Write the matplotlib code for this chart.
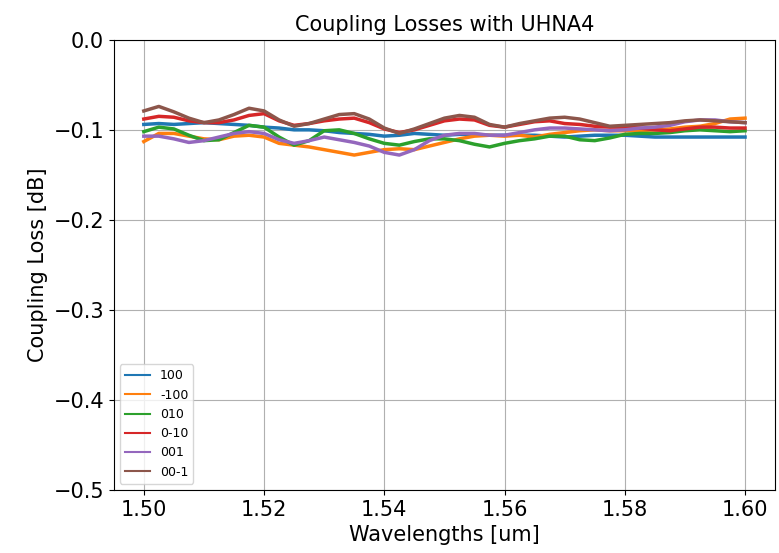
import numpy as np
import matplotlib
matplotlib.use("Agg")
import matplotlib.pyplot as plt

# wavelength grid (um)
wl = [1.5000, 1.5025, 1.5050, 1.5075, 1.5100, 1.5125, 1.5150, 1.5175, 1.5200, 1.5225,
      1.5250, 1.5275, 1.5300, 1.5325, 1.5350, 1.5375, 1.5400, 1.5425, 1.5450, 1.5475,
      1.5500, 1.5525, 1.5550, 1.5575, 1.5600, 1.5625, 1.5650, 1.5675, 1.5700, 1.5725,
      1.5750, 1.5775, 1.5800, 1.5825, 1.5850, 1.5875, 1.5900, 1.5925, 1.5950, 1.5975,
      1.6000]

loss_100 = [-0.094, -0.093, -0.094, -0.093, -0.092, -0.093, -0.094, -0.095, -0.097, -0.098,
            -0.100, -0.100, -0.101, -0.103, -0.104, -0.105, -0.107, -0.106, -0.104, -0.105,
            -0.106, -0.105, -0.105, -0.106, -0.106, -0.106, -0.106, -0.107, -0.108, -0.107,
            -0.106, -0.106, -0.106, -0.107, -0.108, -0.108, -0.108, -0.108, -0.108, -0.108,
            -0.108]
loss_m100 = [-0.113, -0.104, -0.104, -0.107, -0.110, -0.111, -0.107, -0.106, -0.108, -0.115,
             -0.117, -0.119, -0.122, -0.125, -0.128, -0.125, -0.122, -0.121, -0.122, -0.118,
             -0.114, -0.110, -0.107, -0.106, -0.107, -0.106, -0.108, -0.105, -0.103, -0.101,
             -0.100, -0.101, -0.101, -0.101, -0.100, -0.099, -0.097, -0.096, -0.093, -0.088,
             -0.087]
loss_010 = [-0.102, -0.097, -0.099, -0.106, -0.112, -0.111, -0.103, -0.095, -0.097, -0.108,
            -0.117, -0.112, -0.101, -0.100, -0.104, -0.110, -0.115, -0.117, -0.113, -0.110,
            -0.110, -0.112, -0.116, -0.119, -0.115, -0.112, -0.110, -0.107, -0.107, -0.111,
            -0.112, -0.109, -0.105, -0.104, -0.104, -0.103, -0.101, -0.100, -0.101, -0.102,
            -0.101]
loss_0m10 = [-0.088, -0.085, -0.086, -0.090, -0.092, -0.092, -0.089, -0.084, -0.082, -0.090,
             -0.095, -0.093, -0.090, -0.088, -0.087, -0.092, -0.099, -0.103, -0.100, -0.095,
             -0.090, -0.088, -0.089, -0.095, -0.097, -0.094, -0.091, -0.090, -0.093, -0.094,
             -0.096, -0.097, -0.097, -0.098, -0.100, -0.101, -0.099, -0.097, -0.097, -0.098,
             -0.098]
loss_001 = [-0.107, -0.107, -0.110, -0.114, -0.112, -0.108, -0.104, -0.102, -0.104, -0.111,
            -0.115, -0.112, -0.108, -0.111, -0.114, -0.118, -0.125, -0.128, -0.122, -0.112,
            -0.106, -0.104, -0.104, -0.106, -0.106, -0.103, -0.100, -0.098, -0.098, -0.099,
            -0.100, -0.101, -0.100, -0.098, -0.097, -0.095, -0.091, -0.089, -0.089, -0.091,
            -0.092]
loss_00m1 = [-0.079, -0.074, -0.080, -0.087, -0.092, -0.089, -0.083, -0.076, -0.079, -0.089,
             -0.096, -0.093, -0.088, -0.083, -0.082, -0.088, -0.098, -0.104, -0.099, -0.093,
             -0.087, -0.084, -0.086, -0.094, -0.097, -0.093, -0.090, -0.087, -0.086, -0.088,
             -0.092, -0.096, -0.095, -0.094, -0.093, -0.092, -0.090, -0.089, -0.090, -0.091,
             -0.092]

series = [loss_100, loss_m100, loss_010, loss_0m10, loss_001, loss_00m1]
labels = ['100', '-100', '010', '0-10', '001', '00-1']

fig = plt.figure(figsize=(7.79, 5.53), dpi=100)
ax = fig.add_axes([0.146, 0.114, 0.849, 0.814])

for s, lab in zip(series, labels):
    ax.plot(wl, s, label=lab, linewidth=2.5)

ax.set_ylim(-0.5, 0.0)
ax.set_xticks([1.50, 1.52, 1.54, 1.56, 1.58, 1.60])
ax.set_xticklabels(['1.50', '1.52', '1.54', '1.56', '1.58', '1.60'])
ax.tick_params(labelsize=15)
ax.grid(True)
ax.set_title('Coupling Losses with UHNA4', fontsize=15)
ax.set_xlabel('Wavelengths [um]', fontsize=15)
ax.set_ylabel('Coupling Loss [dB]', fontsize=15)
leg = ax.legend(loc='lower left', fontsize=9)
for h in leg.get_lines():
    h.set_linewidth(1.5)

fig.savefig('out.png', dpi=100)
